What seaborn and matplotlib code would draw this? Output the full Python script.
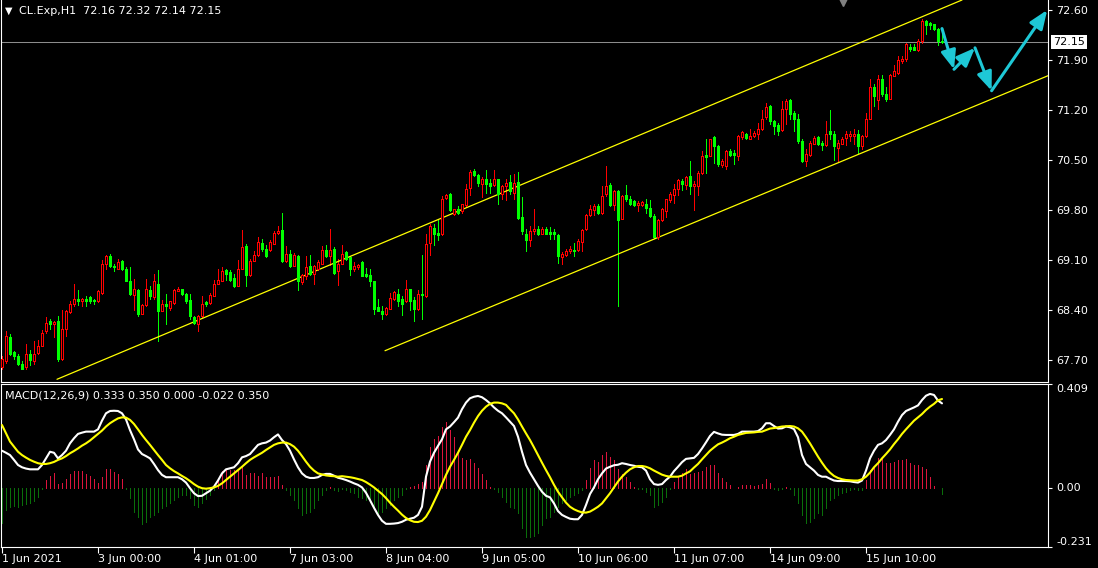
import numpy as np
import pandas as pd
import matplotlib
matplotlib.use("Agg")
import matplotlib.pyplot as plt
import matplotlib.transforms as mtransforms
import seaborn as sns

# CL.Exp H1 candles, 1 Jun - 15 Jun 2021 (oldest first)
opens = [
    67.60, 67.68, 68.02, 67.81, 67.76, 67.64, 67.60, 67.78, 67.68, 67.80,
    67.90, 68.10, 68.24, 68.21, 68.24, 67.71, 68.14, 68.37, 68.49, 68.55,
    68.53, 68.55, 68.58, 68.54, 68.53, 68.64, 69.05, 69.16, 69.02, 68.98,
    69.08, 68.98, 68.81, 68.61, 68.68, 68.35, 68.47, 68.68, 68.58, 68.77,
    68.39, 68.49, 68.43, 68.50, 68.67, 68.69, 68.63, 68.54, 68.30, 68.21,
    68.31, 68.51, 68.50, 68.60, 68.77, 68.81, 68.96, 68.93, 68.85, 68.74,
    68.98, 69.30, 68.89, 69.09, 69.17, 69.34, 69.25, 69.24, 69.33, 69.48,
    69.52, 69.09, 69.18, 69.02, 69.16, 68.79, 68.88, 69.02, 68.91, 68.97,
    69.05, 69.24, 69.16, 69.25, 68.94, 69.05, 69.21, 69.14, 68.98, 69.00,
    69.07, 68.90, 68.89, 68.81, 68.44, 68.38, 68.34, 68.42, 68.55, 68.63,
    68.55, 68.52, 68.69, 68.54, 68.41, 68.63, 68.59, 69.34, 69.55, 69.48,
    69.46, 69.97, 70.02, 69.74, 69.81, 69.78, 69.87, 70.11, 70.35, 70.29,
    70.17, 70.23, 70.18, 70.15, 70.23, 70.03, 70.13, 70.19, 70.04, 70.19,
    69.70, 69.47, 69.38, 69.50, 69.54, 69.47, 69.54, 69.49, 69.49, 69.45,
    69.14, 69.17, 69.23, 69.24, 69.24, 69.35, 69.53, 69.73, 69.80, 69.85,
    69.76, 70.02, 70.15, 69.87, 70.06, 69.68, 70.01, 69.95, 69.92, 69.87,
    69.87, 69.88, 69.83, 69.71, 69.42, 69.66, 69.79, 69.94, 70.01, 70.09,
    70.21, 70.15, 70.28, 70.14, 70.14, 70.32, 70.57, 70.56, 70.82, 70.70,
    70.43, 70.42, 70.63, 70.60, 70.56, 70.82, 70.87, 70.80, 70.83, 70.87,
    70.93, 71.10, 71.26, 71.04, 70.99, 70.92, 71.21, 71.34, 71.16, 71.07,
    70.76, 70.48, 70.57, 70.73, 70.82, 70.74, 70.71, 70.90, 70.87, 70.67,
    70.73, 70.81, 70.84, 70.84, 70.87, 70.69, 70.83, 71.08, 71.52, 71.34,
    71.63, 71.42, 71.36, 71.68, 71.72, 71.88, 71.91, 72.08, 72.08, 72.04,
    72.16, 72.45, 72.42, 72.40, 72.34, 72.16,
]
highs = [
    67.75, 68.11, 68.07, 67.83, 67.79, 67.68, 67.93, 67.84, 67.96, 67.98,
    68.12, 68.30, 68.27, 68.24, 68.32, 68.40, 68.40, 68.52, 68.77, 68.68,
    68.57, 68.59, 68.59, 68.55, 68.68, 69.10, 69.17, 69.18, 69.04, 69.12,
    69.10, 69.00, 69.00, 68.83, 68.69, 68.49, 68.84, 68.74, 68.90, 68.96,
    68.54, 68.63, 68.53, 68.69, 68.72, 68.70, 68.64, 68.62, 68.31, 68.33,
    68.59, 68.53, 68.64, 68.82, 68.98, 69.00, 68.98, 68.96, 68.90, 69.10,
    69.52, 69.33, 69.12, 69.22, 69.42, 69.40, 69.31, 69.38, 69.50, 69.57,
    69.76, 69.29, 69.24, 69.20, 69.17, 68.90, 69.15, 69.17, 69.03, 69.10,
    69.30, 69.31, 69.53, 69.28, 69.12, 69.31, 69.23, 69.15, 69.07, 69.05,
    69.08, 68.99, 68.98, 68.81, 68.56, 68.45, 68.44, 68.64, 68.67, 68.69,
    68.59, 68.82, 68.70, 68.58, 68.68, 69.17, 69.46, 69.61, 69.61, 69.67,
    69.99, 70.02, 70.04, 69.82, 69.85, 69.89, 70.17, 70.36, 70.38, 70.30,
    70.26, 70.36, 70.23, 70.36, 70.24, 70.15, 70.24, 70.29, 70.30, 70.33,
    69.98, 69.54, 69.57, 69.81, 69.57, 69.56, 69.56, 69.56, 69.53, 69.46,
    69.21, 69.26, 69.29, 69.34, 69.40, 69.54, 69.75, 69.87, 69.89, 69.89,
    70.13, 70.42, 70.18, 70.08, 70.08, 70.01, 70.15, 69.99, 69.94, 69.92,
    69.93, 69.95, 69.94, 69.74, 69.67, 69.83, 69.96, 70.05, 70.17, 70.24,
    70.24, 70.27, 70.49, 70.20, 70.34, 70.62, 70.80, 70.80, 70.84, 70.71,
    70.51, 70.64, 70.66, 70.64, 70.85, 70.90, 70.88, 70.93, 70.90, 71.02,
    71.20, 71.30, 71.27, 71.06, 71.02, 71.32, 71.35, 71.35, 71.18, 71.14,
    70.79, 70.66, 70.76, 70.84, 70.84, 70.76, 71.05, 71.20, 70.90, 70.78,
    70.82, 70.90, 70.90, 70.94, 70.92, 70.85, 71.16, 71.63, 71.57, 71.69,
    71.69, 71.52, 71.70, 71.83, 71.96, 71.95, 72.14, 72.12, 72.13, 72.19,
    72.47, 72.46, 72.43, 72.41, 72.35, 72.32,
]
lows = [
    67.58, 67.66, 67.77, 67.72, 67.63, 67.58, 67.58, 67.63, 67.65, 67.79,
    67.89, 68.08, 68.13, 68.02, 67.69, 67.70, 68.03, 68.36, 68.45, 68.47,
    68.45, 68.45, 68.50, 68.48, 68.51, 68.63, 68.97, 69.00, 68.95, 68.97,
    68.96, 68.80, 68.61, 68.40, 68.32, 68.34, 68.45, 68.56, 68.56, 67.96,
    68.38, 68.21, 68.40, 68.49, 68.66, 68.61, 68.50, 68.28, 68.20, 68.10,
    68.30, 68.46, 68.49, 68.59, 68.76, 68.80, 68.82, 68.81, 68.72, 68.73,
    68.97, 68.73, 68.88, 69.08, 69.16, 69.23, 69.14, 69.23, 69.32, 69.47,
    69.07, 69.07, 69.00, 69.01, 68.68, 68.77, 68.84, 68.89, 68.77, 68.96,
    69.04, 69.14, 69.03, 68.91, 68.75, 69.04, 69.10, 68.89, 68.94, 68.98,
    68.87, 68.86, 68.74, 68.35, 68.38, 68.27, 68.33, 68.41, 68.54, 68.45,
    68.33, 68.51, 68.40, 68.24, 68.40, 68.27, 68.58, 69.17, 69.31, 69.38,
    69.45, 69.96, 69.79, 69.73, 69.75, 69.76, 69.86, 70.01, 70.28, 70.13,
    69.98, 70.04, 70.04, 70.14, 69.88, 69.96, 69.94, 70.03, 69.96, 69.68,
    69.47, 69.23, 69.30, 69.47, 69.45, 69.46, 69.46, 69.40, 69.39, 69.06,
    69.05, 69.15, 69.20, 69.15, 69.22, 69.22, 69.52, 69.72, 69.73, 69.74,
    69.75, 69.99, 69.85, 69.80, 68.45, 69.67, 69.92, 69.87, 69.86, 69.78,
    69.86, 69.76, 69.70, 69.41, 69.40, 69.65, 69.70, 69.91, 69.90, 70.01,
    70.08, 70.09, 70.02, 69.80, 70.01, 70.31, 70.32, 70.55, 70.46, 70.41,
    70.40, 70.37, 70.55, 70.45, 70.50, 70.80, 70.80, 70.79, 70.82, 70.80,
    70.92, 71.08, 71.01, 70.86, 70.85, 70.91, 71.00, 71.07, 70.90, 70.74,
    70.47, 70.41, 70.56, 70.72, 70.71, 70.64, 70.70, 70.80, 70.50, 70.48,
    70.72, 70.71, 70.76, 70.73, 70.60, 70.66, 70.82, 71.07, 71.25, 71.22,
    71.39, 71.33, 71.35, 71.67, 71.70, 71.86, 71.89, 72.03, 72.04, 72.03,
    72.14, 72.27, 72.33, 72.32, 72.11, 72.14,
]
closes = [
    67.72, 68.04, 67.79, 67.75, 67.64, 67.58, 67.79, 67.70, 67.78, 67.90,
    68.08, 68.22, 68.21, 68.23, 67.71, 68.13, 68.38, 68.49, 68.56, 68.52,
    68.56, 68.53, 68.53, 68.52, 68.66, 69.04, 69.16, 69.01, 69.00, 69.07,
    68.98, 68.81, 68.62, 68.69, 68.34, 68.47, 68.69, 68.60, 68.80, 68.38,
    68.49, 68.45, 68.52, 68.68, 68.70, 68.63, 68.53, 68.31, 68.22, 68.31,
    68.49, 68.48, 68.61, 68.77, 68.82, 68.95, 68.90, 68.82, 68.74, 68.97,
    69.28, 68.89, 69.09, 69.17, 69.35, 69.25, 69.15, 69.35, 69.48, 69.51,
    69.09, 69.19, 69.02, 69.17, 68.80, 68.89, 69.00, 68.91, 69.01, 69.07,
    69.24, 69.16, 69.24, 68.92, 69.05, 69.19, 69.11, 68.97, 69.01, 69.03,
    68.88, 68.87, 68.81, 68.41, 68.39, 68.35, 68.43, 68.57, 68.65, 68.52,
    68.49, 68.70, 68.52, 68.41, 68.62, 68.61, 69.33, 69.57, 69.47, 69.45,
    69.96, 70.01, 69.80, 69.81, 69.76, 69.88, 70.10, 70.33, 70.29, 70.18,
    70.23, 70.17, 70.13, 70.23, 70.03, 70.13, 70.18, 70.06, 70.18, 69.69,
    69.50, 69.38, 69.51, 69.54, 69.46, 69.53, 69.47, 69.46, 69.46, 69.15,
    69.18, 69.23, 69.25, 69.23, 69.37, 69.52, 69.73, 69.81, 69.86, 69.76,
    70.00, 70.14, 69.87, 70.06, 69.66, 70.00, 69.95, 69.89, 69.87, 69.90,
    69.91, 69.83, 69.71, 69.42, 69.66, 69.81, 69.95, 70.02, 70.09, 70.22,
    70.16, 70.26, 70.13, 70.16, 70.32, 70.56, 70.54, 70.79, 70.70, 70.45,
    70.49, 70.63, 70.57, 70.57, 70.84, 70.89, 70.81, 70.84, 70.88, 70.94,
    71.08, 71.24, 71.05, 70.97, 70.91, 71.22, 71.33, 71.15, 71.07, 70.76,
    70.49, 70.58, 70.74, 70.81, 70.72, 70.71, 70.87, 70.87, 70.69, 70.74,
    70.80, 70.86, 70.87, 70.86, 70.70, 70.84, 71.08, 71.52, 71.39, 71.64,
    71.42, 71.35, 71.69, 71.74, 71.90, 71.91, 72.12, 72.05, 72.04, 72.17,
    72.45, 72.39, 72.39, 72.34, 72.17, 72.15,
]

# MACD(12,26,9): main line, signal line, histogram
macd_main = [
    0.147, 0.139, 0.130, 0.111, 0.091, 0.082, 0.077, 0.074, 0.074, 0.074,
    0.091, 0.117, 0.143, 0.139, 0.117, 0.130, 0.147, 0.176, 0.196, 0.213,
    0.218, 0.222, 0.222, 0.222, 0.231, 0.265, 0.294, 0.303, 0.304, 0.303,
    0.294, 0.270, 0.228, 0.192, 0.152, 0.134, 0.126, 0.117, 0.095, 0.071,
    0.052, 0.043, 0.043, 0.043, 0.043, 0.035, 0.022, 0.000, -0.020, -0.031,
    -0.030, -0.020, -0.010, 0.006, 0.030, 0.058, 0.074, 0.078, 0.082, 0.098,
    0.121, 0.126, 0.134, 0.152, 0.170, 0.176, 0.179, 0.187, 0.200, 0.211,
    0.189, 0.173, 0.147, 0.113, 0.082, 0.058, 0.045, 0.040, 0.040, 0.043,
    0.052, 0.056, 0.056, 0.049, 0.041, 0.037, 0.032, 0.026, 0.019, 0.013,
    0.003, -0.018, -0.047, -0.077, -0.105, -0.128, -0.140, -0.140, -0.139, -0.137,
    -0.132, -0.124, -0.120, -0.116, -0.105, -0.073, 0.045, 0.104, 0.139, 0.166,
    0.192, 0.231, 0.242, 0.259, 0.277, 0.310, 0.336, 0.353, 0.359, 0.362,
    0.357, 0.346, 0.333, 0.317, 0.304, 0.294, 0.278, 0.261, 0.244, 0.202,
    0.143, 0.091, 0.061, 0.035, 0.009, -0.014, -0.030, -0.036, -0.060, -0.090,
    -0.105, -0.113, -0.120, -0.122, -0.122, -0.105, -0.066, -0.023, 0.003, 0.035,
    0.058, 0.077, 0.084, 0.090, 0.092, 0.098, 0.095, 0.091, 0.088, 0.084,
    0.082, 0.069, 0.035, 0.016, 0.013, 0.016, 0.032, 0.045, 0.067, 0.084,
    0.102, 0.115, 0.117, 0.119, 0.134, 0.156, 0.180, 0.205, 0.221, 0.215,
    0.210, 0.209, 0.209, 0.209, 0.213, 0.222, 0.222, 0.222, 0.222, 0.224,
    0.235, 0.255, 0.255, 0.244, 0.234, 0.235, 0.242, 0.239, 0.232, 0.200,
    0.130, 0.095, 0.082, 0.069, 0.052, 0.045, 0.045, 0.037, 0.030, 0.028,
    0.028, 0.028, 0.027, 0.024, 0.022, 0.030, 0.069, 0.117, 0.147, 0.170,
    0.176, 0.189, 0.209, 0.231, 0.261, 0.287, 0.303, 0.310, 0.317, 0.325,
    0.346, 0.363, 0.370, 0.366, 0.344, 0.333,
]
macd_signal = [
    0.248, 0.215, 0.183, 0.163, 0.143, 0.130, 0.120, 0.111, 0.104, 0.098,
    0.095, 0.095, 0.098, 0.103, 0.111, 0.117, 0.126, 0.137, 0.146, 0.156,
    0.167, 0.176, 0.187, 0.200, 0.213, 0.226, 0.242, 0.255, 0.265, 0.274,
    0.278, 0.277, 0.268, 0.252, 0.231, 0.209, 0.189, 0.170, 0.150, 0.130,
    0.111, 0.091, 0.078, 0.067, 0.058, 0.048, 0.039, 0.028, 0.016, 0.006,
    0.000, -0.002, 0.000, 0.003, 0.009, 0.019, 0.032, 0.045, 0.058, 0.071,
    0.084, 0.098, 0.111, 0.121, 0.130, 0.139, 0.150, 0.160, 0.170, 0.176,
    0.179, 0.179, 0.173, 0.163, 0.147, 0.126, 0.104, 0.084, 0.069, 0.058,
    0.054, 0.050, 0.048, 0.047, 0.045, 0.047, 0.045, 0.043, 0.040, 0.036,
    0.032, 0.024, 0.014, 0.003, -0.010, -0.023, -0.039, -0.057, -0.073, -0.088,
    -0.104, -0.117, -0.126, -0.132, -0.133, -0.128, -0.112, -0.086, -0.053, -0.020,
    0.016, 0.052, 0.084, 0.111, 0.139, 0.170, 0.202, 0.228, 0.257, 0.283,
    0.304, 0.320, 0.331, 0.336, 0.336, 0.333, 0.327, 0.310, 0.294, 0.270,
    0.242, 0.215, 0.189, 0.160, 0.130, 0.100, 0.071, 0.043, 0.013, -0.014,
    -0.036, -0.057, -0.073, -0.083, -0.090, -0.095, -0.096, -0.092, -0.083, -0.073,
    -0.060, -0.040, -0.020, 0.003, 0.026, 0.045, 0.061, 0.074, 0.082, 0.087,
    0.087, 0.084, 0.078, 0.069, 0.061, 0.053, 0.048, 0.045, 0.045, 0.045,
    0.049, 0.058, 0.066, 0.081, 0.095, 0.113, 0.130, 0.147, 0.160, 0.172,
    0.179, 0.187, 0.196, 0.202, 0.209, 0.213, 0.217, 0.218, 0.219, 0.221,
    0.222, 0.228, 0.234, 0.236, 0.239, 0.242, 0.243, 0.244, 0.242, 0.235,
    0.222, 0.200, 0.176, 0.150, 0.124, 0.100, 0.078, 0.061, 0.048, 0.040,
    0.035, 0.032, 0.031, 0.030, 0.030, 0.035, 0.045, 0.061, 0.082, 0.098,
    0.117, 0.134, 0.152, 0.173, 0.192, 0.213, 0.231, 0.248, 0.265, 0.278,
    0.291, 0.307, 0.320, 0.331, 0.345, 0.350,
]
macd_hist = [
    -0.138, -0.086, -0.073, -0.070, -0.073, -0.066, -0.062, -0.057, -0.049, -0.033,
    -0.002, 0.032, 0.048, 0.058, 0.016, 0.019, 0.035, 0.054, 0.067, 0.067,
    0.069, 0.054, 0.048, 0.035, 0.022, 0.045, 0.074, 0.074, 0.065, 0.056,
    0.035, -0.002, -0.040, -0.092, -0.115, -0.140, -0.132, -0.112, -0.105, -0.092,
    -0.079, -0.070, -0.060, -0.047, -0.036, -0.027, -0.027, -0.040, -0.066, -0.075,
    -0.057, -0.043, -0.027, -0.007, 0.032, 0.069, 0.071, 0.071, 0.071, 0.074,
    0.082, 0.052, 0.058, 0.058, 0.048, 0.061, 0.045, 0.043, 0.045, 0.048,
    0.013, -0.007, -0.027, -0.047, -0.079, -0.105, -0.099, -0.092, -0.079, -0.047,
    -0.027, -0.007, 0.003, -0.007, -0.010, -0.004, -0.007, -0.014, -0.020, -0.033,
    -0.040, -0.047, -0.053, -0.079, -0.099, -0.092, -0.079, -0.066, -0.047, -0.033,
    -0.027, -0.002, 0.006, 0.009, 0.016, 0.026, 0.091, 0.163, 0.192, 0.205,
    0.242, 0.261, 0.228, 0.202, 0.150, 0.117, 0.111, 0.113, 0.100, 0.078,
    0.056, 0.032, 0.006, -0.002, -0.014, -0.033, -0.053, -0.073, -0.079, -0.099,
    -0.158, -0.190, -0.193, -0.188, -0.177, -0.145, -0.118, -0.112, -0.092, -0.073,
    -0.057, -0.047, -0.033, -0.027, -0.020, -0.007, 0.032, 0.078, 0.111, 0.104,
    0.130, 0.143, 0.121, 0.111, 0.074, 0.056, 0.045, 0.026, 0.003, -0.004,
    -0.004, -0.014, -0.027, -0.073, -0.066, -0.053, -0.033, -0.002, 0.026, 0.045,
    0.058, 0.074, 0.054, 0.058, 0.063, 0.069, 0.082, 0.091, 0.091, 0.061,
    0.039, 0.026, 0.013, 0.001, 0.006, 0.011, 0.011, 0.011, 0.009, 0.011,
    0.016, 0.035, 0.022, -0.004, -0.007, -0.002, 0.003, -0.002, -0.027, -0.060,
    -0.105, -0.135, -0.132, -0.118, -0.099, -0.105, -0.079, -0.047, -0.040, -0.027,
    -0.018, -0.014, -0.007, -0.004, -0.007, -0.007, 0.032, 0.071, 0.087, 0.117,
    0.117, 0.100, 0.098, 0.104, 0.111, 0.111, 0.113, 0.100, 0.091, 0.091,
    0.082, 0.074, 0.045, 0.009, 0.002, -0.022,
]

price_ticks = [72.60, 71.90, 71.20, 70.50, 69.80, 69.10, 68.40, 67.70]
macd_ticks = [-0.231, 0.0, 0.409]
macd_tick_labels = ["-0.231", "0.00", "0.409"]
last_price = 72.15
time_label_bars = [0, 24, 48, 72, 96, 120, 144, 168, 192, 216]
time_labels = ["1 Jun 2021", "3 Jun 00:00", "4 Jun 01:00", "7 Jun 03:00",
               "8 Jun 04:00", "9 Jun 05:00", "10 Jun 06:00", "11 Jun 07:00",
               "14 Jun 09:00", "15 Jun 10:00"]

# channel drawn on the chart: (bar, price) end points
channel_upper_bars = [13.75, 240.0]
channel_upper_prices = [67.43, 72.74]
channel_lower_bars = [95.75, 261.5]
channel_lower_prices = [67.83, 71.68]

# hand drawn forecast arrows
forecast_bars = [235.0, 238.0, 243.25, 247.4, 261.3]
forecast_prices = [72.34, 71.77, 72.07, 71.47, 72.60]
shift_marker_bar = 210.25

sns.set_theme(style="dark")
plt.rcParams['font.family'] = ['DejaVu Sans']

W, H = 1098, 568
fig = plt.figure(figsize=(W / 100, H / 100), dpi=100, facecolor='black')
ax = fig.add_axes([1 / W, 1 - 382 / H, 1047 / W, 382 / H])
ax2 = fig.add_axes([1 / W, 1 - 547 / H, 1047 / W, 163 / H])

bars = np.arange(len(closes))
candles = pd.DataFrame({'bar': bars, 'open': opens, 'high': highs,
                        'low': lows, 'close': closes})
up = (candles['close'] >= candles['open']).to_numpy()
edge = np.where(up, '#ff0000', '#00ff00')
fill = np.where(up, '#000000', '#00ff00')
body_low = candles[['open', 'close']].min(axis=1)
body_h = (candles['close'] - candles['open']).abs().clip(lower=0.004)

ax.axhline(last_price, color='#8c8c8c', lw=0.75, zorder=1)
ax.vlines(candles['bar'], candles['low'], candles['high'], colors=edge,
          lw=0.55, antialiased=False, zorder=2)
ax.bar(candles['bar'], body_h, bottom=body_low, width=0.5, color=fill,
       edgecolor=edge, linewidth=0.55, antialiased=False, zorder=3)

sns.lineplot(x=channel_upper_bars, y=channel_upper_prices, ax=ax, color='#ffff00', lw=0.9)
sns.lineplot(x=channel_lower_bars, y=channel_lower_prices, ax=ax, color='#ffff00', lw=0.9)

for i in range(len(forecast_bars) - 1):
    ax.annotate('', xy=(forecast_bars[i + 1], forecast_prices[i + 1]),
                xytext=(forecast_bars[i], forecast_prices[i]),
                arrowprops=dict(arrowstyle='-|>,head_length=0.8,head_width=0.32',
                                color='#1ec8d6', lw=2.2, shrinkA=0, shrinkB=0,
                                mutation_scale=14),
                annotation_clip=False, zorder=5)

# MACD panel
hist = np.array(macd_hist)
hist_col = np.where(hist >= 0, '#dc143c', '#0a6e0a')
ax2.vlines(bars, 0, hist, colors=hist_col, lw=0.55, antialiased=False, zorder=1)
sns.lineplot(x=bars, y=macd_main, ax=ax2, color='white', lw=1.5, zorder=3)
sns.lineplot(x=bars, y=macd_signal, ax=ax2, color='#ffff00', lw=1.5, zorder=4)

for a in (ax, ax2):
    a.set_facecolor('black')
    a.set_xlim(-0.25, 261.5)
    a.grid(False)
    for s in a.spines.values():
        s.set_color('white')
        s.set_linewidth(0.8)
    a.yaxis.tick_right()
    a.tick_params(axis='y', left=False, right=True, labelleft=False, labelright=True,
                  color='white', labelcolor='white', length=3, width=0.8,
                  labelsize=8, pad=3, direction='out')
    a.set_xlabel('')
    a.set_ylabel('')

ax.spines['top'].set_visible(False)
ax.set_xticks([])
ax.set_ylim(67.392, 72.74)
ax.set_yticks(price_ticks)
ax.set_yticklabels([f'{p:.2f}' for p in price_ticks])

ax2.set_ylim(-0.231, 0.409)
ax2.set_yticks(macd_ticks)
ax2.set_yticklabels(macd_tick_labels)
for lbl, va in zip(ax2.get_yticklabels(), ['bottom', 'center', 'top']):
    lbl.set_va(va)
ax2.set_xticks(time_label_bars)
ax2.set_xticklabels(time_labels, ha='left')
ax2.tick_params(axis='x', bottom=True, color='white', labelcolor='white',
                length=4, width=0.8, labelsize=8, pad=1)

tr = mtransforms.blended_transform_factory(ax.transAxes, ax.transData)
ax.text(1.0 + 5 / 1047, last_price, f'{last_price:.2f}', transform=tr, color='black',
        fontsize=8, va='center', ha='left', clip_on=False, zorder=10,
        bbox=dict(boxstyle='square,pad=0.15', fc='white', ec='none'))

tr2 = mtransforms.blended_transform_factory(ax.transData, ax.transAxes)
ax.plot([shift_marker_bar], [0.994], transform=tr2, marker='v', ms=5.5,
        color='#808080', clip_on=False, zorder=6)

fig.text(5 / W, 1 - 10.5 / H, '\u25bc', color='white', fontsize=7, va='center', ha='left')
fig.text(19 / W, 1 - 10.5 / H, 'CL.Exp,H1  72.16 72.32 72.14 72.15',
         color='white', fontsize=8, va='center', ha='left')
fig.text(5 / W, 1 - 395 / H, 'MACD(12,26,9) 0.333 0.350 0.000 -0.022 0.350',
         color='white', fontsize=8, va='center', ha='left')

fig.savefig('out.png', dpi=100, facecolor='black')
